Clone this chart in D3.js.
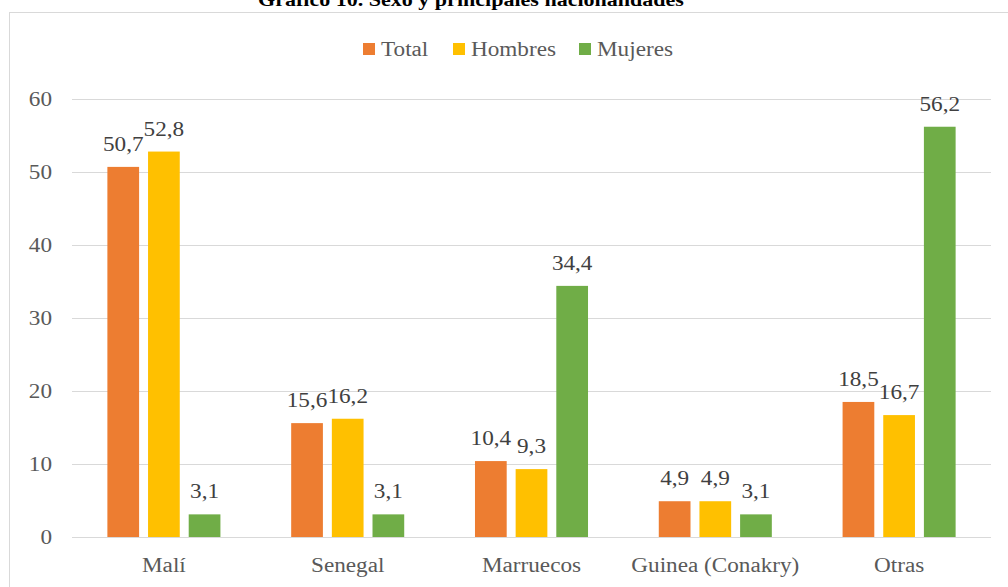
<!DOCTYPE html>
<html><head><meta charset="utf-8">
<script src="https://cdn.jsdelivr.net/npm/d3@7"></script>
<style>body{margin:0;background:#fff}svg{display:block}</style>
</head><body>
<script>
const categories = ["Malí", "Senegal", "Marruecos", "Guinea (Conakry)", "Otras"];
const seriesNames = ["Total", "Hombres", "Mujeres"];
const total = [50.7, 15.6, 10.4, 4.9, 18.5];
const hombres = [52.8, 16.2, 9.3, 4.9, 16.7];
const mujeres = [3.1, 3.1, 34.4, 3.1, 56.2];
const yTicks = [0, 10, 20, 30, 40, 50, 60];
const colors = ["#ED7D31", "#FFC000", "#70AD47"];
const title = "Gráfico 10. Sexo y principales nacionalidades";

const W = 1008, H = 587;
const SX = 1.16;
const svg = d3.select("body").append("svg").attr("width", W).attr("height", H);
const font = "Liberation Serif, Times New Roman, serif";

function txt(x, y, s, opts) {
  const t = svg.append("text")
    .attr("transform", `translate(${x},${y}) scale(${SX},1)`)
    .attr("font-family", font).attr("font-size", opts.size || 20)
    .attr("fill", opts.fill || "#595959")
    .attr("text-anchor", opts.anchor || "start")
    .text(s);
  if (opts.bold) t.attr("font-weight", "bold");
  return t;
}

// frame
svg.append("rect").attr("x", 9.5).attr("y", 12.5).attr("width", W + 20).attr("height", H + 20)
  .attr("fill", "none").attr("stroke", "#d9d9d9").attr("stroke-width", 1);

txt(471, 6, title, {size: 19, bold: true, fill: "#000", anchor: "middle"});

const x = d3.scaleBand().domain(categories).range([72, 991]).paddingInner(0.385).paddingOuter(0.1925);
const xs = d3.scaleBand().domain(seriesNames).range([0, x.bandwidth()]).paddingInner(0.22);
const y = d3.scaleLinear().domain([0, 60]).range([537, 99]);

// gridlines
svg.append("g").selectAll("line").data(yTicks).join("line")
  .attr("x1", 72).attr("x2", 991).attr("y1", d => Math.round(y(d)) + 0.5).attr("y2", d => Math.round(y(d)) + 0.5)
  .attr("stroke", "#d9d9d9").attr("stroke-width", 1);

// y axis labels
const yAxis = d3.axisLeft(y).tickValues(yTicks).tickSize(0).tickPadding(0).tickFormat(d3.format("d"));
const ga = svg.append("g").attr("transform", "translate(52,0)").call(yAxis);
ga.select(".domain").remove();
ga.attr("font-family", font);
ga.selectAll("text").attr("font-family", font).attr("font-size", 20).attr("fill", "#595959")
  .attr("dy", "0.32em").attr("transform", `scale(${SX},1)`);

// x axis labels
const xAxis = d3.axisBottom(x).tickSize(0).tickPadding(0);
const gx = svg.append("g").attr("transform", "translate(0,572)").call(xAxis);
gx.select(".domain").remove();
gx.attr("font-family", font);
gx.selectAll("text").attr("font-family", font).attr("font-size", 20).attr("fill", "#595959")
  .attr("y", 0).attr("dy", 0).attr("transform", `scale(${SX},1)`);

const data = [total, hombres, mujeres];
const fmt = v => d3.format(".1f")(v).replace(".", ",");
seriesNames.forEach((s, si) => {
  svg.append("g").selectAll("rect").data(categories).join("rect")
    .attr("x", (c) => x(c) + xs(s))
    .attr("y", (c, i) => y(data[si][i]))
    .attr("width", xs.bandwidth())
    .attr("height", (c, i) => y(0) - y(data[si][i]))
    .attr("fill", colors[si]);
  categories.forEach((c, i) => {
    txt(x(c) + xs(s) + xs.bandwidth() / 2, y(data[si][i]) - 16, fmt(data[si][i]),
      {fill: "#404040", anchor: "middle"});
  });
});

// legend
const legX = [363, 453, 579];
seriesNames.forEach((s, si) => {
  svg.append("rect").attr("x", legX[si]).attr("y", 43).attr("width", 12).attr("height", 12).attr("fill", colors[si]);
  txt(legX[si] + 18, 56, s, {});
});
</script>
</body></html>
